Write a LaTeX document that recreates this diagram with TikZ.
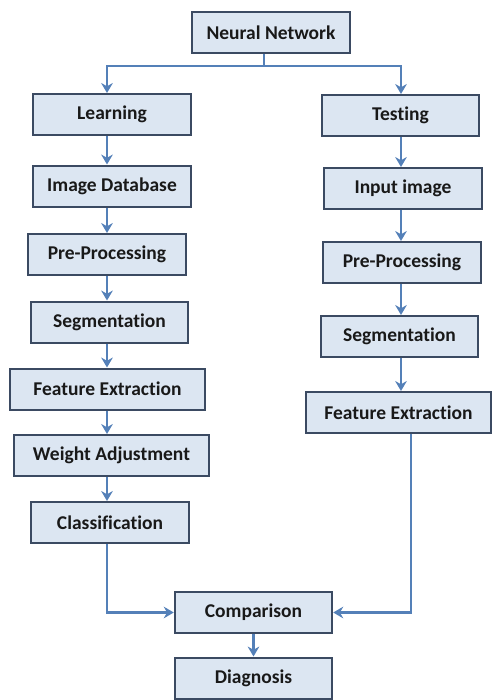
\documentclass[tikz,border=0pt]{standalone}
\usepackage{fontspec}
\setmainfont{Carlito}[Ligatures=NoCommon]
\usetikzlibrary{arrows.meta}
\definecolor{boxfill}{HTML}{DCE6F2}
\definecolor{boxline}{HTML}{3B4A62}
\definecolor{flowline}{HTML}{5480B8}

\begin{document}
\begin{tikzpicture}[x=0.6pt, y=-0.6pt,
  block/.style={draw=boxline, line width=1.2pt, fill=boxfill, inner sep=0pt,
    minimum width=94.5pt, minimum height=24.6pt, font=\bfseries\fontsize{11.7}{13}\selectfont, text=black!90},
  wideblock/.style={block, minimum width=117pt},
  link/.style={draw=flowline, line width=1.3pt},
  flow/.style={link, -{Stealth[length=6pt, width=7pt, inset=2pt]}}]
  \useasboundingbox (0, 0) rectangle (492, 700);

  % Top node and split
  \node[block] (nn) at (271, 32.5) {Neural Network};
  \coordinate (split) at (264, 66);
  \coordinate (colL) at (107, 0);
  \coordinate (colR) at (401, 0);
  \coordinate (colM) at (411, 0);

  % Learning branch
  \node[block] (learn) at (112, 114.5) {Learning};
  \node[block] (imgdb) at (112, 186) {Image Database};
  \node[block] (prel) at (107, 254.5) {Pre-Processing};
  \node[block] (segl) at (109.5, 322) {Segmentation};
  \node[wideblock] (featl) at (107.5, 389) {Feature Extraction};
  \node[wideblock] (weight) at (111.5, 455.5) {Weight Adjustment};
  \node[block] (classif) at (110, 522.5) {Classification};

  % Testing branch
  \node[block] (test) at (400.5, 115.5) {Testing};
  \node[block] (input) at (403, 188.5) {Input image};
  \node[block] (prer) at (402, 262.5) {Pre-Processing};
  \node[block] (segr) at (399.5, 336.5) {Segmentation};
  \node[block, minimum width=111pt] (featr) at (398.5, 412.5) {Feature Extraction};

  % Result
  \node[block] (comp) at (253.5, 612.5) {Comparison};
  \node[block] (diag) at (253.5, 678) {Diagnosis};

  % Connectors
  \draw[link] (nn.south -| split) -- (split);
  \draw[flow] (split) -| (learn.north -| colL);
  \draw[flow] (split) -| (test.north -| colR);

  \draw[flow] (learn.south -| colL) -- (imgdb.north -| colL);
  \draw[flow] (imgdb.south -| colL) -- (prel.north -| colL);
  \draw[flow] (prel.south -| colL) -- (segl.north -| colL);
  \draw[flow] (segl.south -| colL) -- (featl.north -| colL);
  \draw[flow] (featl.south -| colL) -- (weight.north -| colL);
  \draw[flow] (weight.south -| colL) -- (classif.north -| colL);

  \draw[flow] (test.south -| colR) -- (input.north -| colR);
  \draw[flow] (input.south -| colR) -- (prer.north -| colR);
  \draw[flow] (prer.south -| colR) -- (segr.north -| colR);
  \draw[flow] (segr.south -| colR) -- (featr.north -| colR);

  \draw[flow] (classif.south -| colL) |- (comp.west);
  \draw[flow] (featr.south -| colM) |- (comp.east);
  \draw[flow] (comp) -- (diag);
\end{tikzpicture}
\end{document}
